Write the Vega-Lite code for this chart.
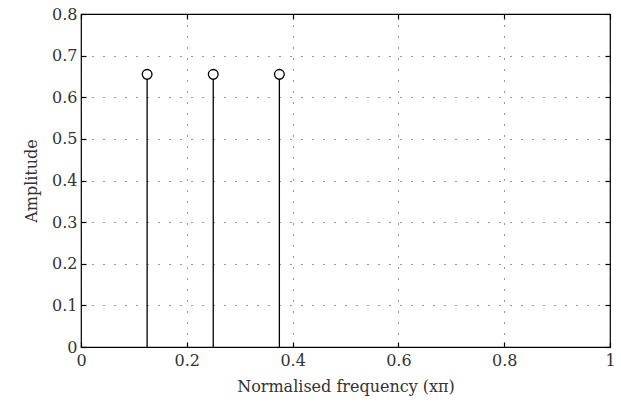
{
  "$schema": "https://vega.github.io/schema/vega-lite/v6.json",
  "width": 529,
  "height": 333,
  "autosize": "none",
  "padding": {"left": 81, "top": 14, "right": 11, "bottom": 66},
  "background": "white",
  "config": {
    "view": {"stroke": "black", "strokeWidth": 1.2},
    "font": "DejaVu Serif"
  },
  "data": {
    "values": [
      {"freq": 0.125, "amp": 0.655},
      {"freq": 0.25, "amp": 0.655},
      {"freq": 0.375, "amp": 0.655}
    ]
  },
  "layer": [
    {
      "mark": {"type": "rule", "color": "black", "strokeWidth": 1.3},
      "encoding": {
        "x": {
          "field": "freq", "type": "quantitative",
          "scale": {"domain": [0, 1], "nice": false},
          "axis": {"orient": "bottom", "values": [0, 0.2, 0.4, 0.6, 0.8, 1], "format": ".1~f", "grid": true, "title": "Normalised frequency (xπ)",
            "labelFont": "DejaVu Serif", "labelFontSize": 16, "labelColor": "#333", "labelPadding": 10, "labelFlush": false, "labelOverlap": false,
            "titleFont": "DejaVu Serif", "titleFontSize": 16, "titleColor": "#333", "titleFontWeight": "normal", "titlePadding": 10,
            "domain": false, "tickColor": "black", "tickSize": -5, "tickWidth": 1.2,
            "gridColor": "black", "gridDash": [1, 10], "gridOpacity": 0.8, "gridWidth": 1}
        },
        "y": {
          "field": "amp", "type": "quantitative",
          "scale": {"domain": [0, 0.8], "nice": false},
          "axis": {"orient": "left", "values": [0, 0.1, 0.2, 0.3, 0.4, 0.5, 0.6, 0.7, 0.8], "format": ".1~f", "grid": true, "title": "Amplitude",
            "labelFont": "DejaVu Serif", "labelFontSize": 16, "labelColor": "#333", "labelPadding": 9, "labelFlush": false, "labelOverlap": false,
            "titleFont": "DejaVu Serif", "titleFontSize": 16, "titleColor": "#333", "titleFontWeight": "normal", "titlePadding": 12,
            "domain": false, "tickColor": "black", "tickSize": -5, "tickWidth": 1.2,
            "gridColor": "black", "gridDash": [1, 10], "gridOpacity": 0.8, "gridWidth": 1}
        },
        "y2": {"datum": 0}
      }
    },
    {
      "mark": {"type": "point", "shape": "circle", "size": 95, "filled": true, "fill": "white", "stroke": "black", "strokeWidth": 1.3, "opacity": 1},
      "encoding": {
        "x": {
          "field": "freq", "type": "quantitative",
          "scale": {"domain": [0, 1], "nice": false},
          "axis": {"orient": "top", "values": [0, 0.2, 0.4, 0.6, 0.8, 1], "labels": false, "grid": false, "title": null,
            "domain": false, "tickColor": "black", "tickSize": -5, "tickWidth": 1.2}
        },
        "y": {
          "field": "amp", "type": "quantitative",
          "scale": {"domain": [0, 0.8], "nice": false},
          "axis": {"orient": "right", "values": [0, 0.1, 0.2, 0.3, 0.4, 0.5, 0.6, 0.7, 0.8], "labels": false, "grid": false, "title": null,
            "domain": false, "tickColor": "black", "tickSize": -5, "tickWidth": 1.2}
        }
      }
    }
  ],
  "resolve": {"axis": {"x": "independent", "y": "independent"}}
}
